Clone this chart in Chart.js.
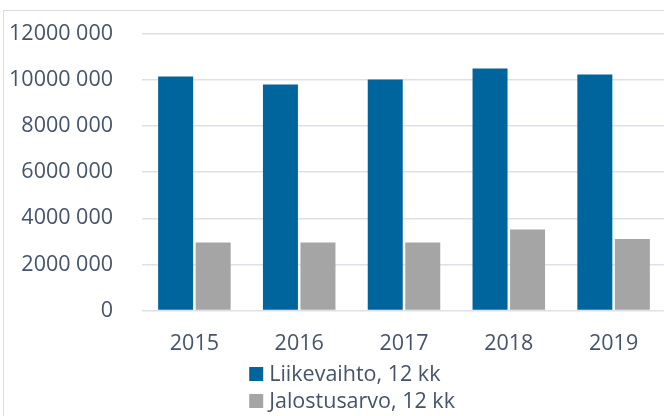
<!DOCTYPE html>
<html>
<head>
<meta charset="utf-8">
<script src="https://cdn.jsdelivr.net/npm/chart.js@4"></script>
<style>
    html, body { margin: 0; padding: 0; overflow: hidden; background: #fff; }
    #frame {
        position: absolute; left: 3px; top: 10px; width: 700px; height: 500px;
        border-left: 1.5px solid #d9dce1; border-top: 1.5px solid #d9dce1;
    }
    #wrap { position: absolute; left: 0; top: -8px; width: 666px; height: 424px; }
</style>
</head>
<body>
<div id="frame"></div>
<div id="wrap"><canvas id="chart"></canvas></div>
<script>
// Data
const years = ['2015', '2016', '2017', '2018', '2019'];
const liikevaihto = [10150000, 9800000, 10020000, 10500000, 10240000];
const jalostusarvo = [2950000, 2950000, 2950000, 3510000, 3100000];
const seriesNames = ['Liikevaihto, 12 kk', 'Jalostusarvo, 12 kk'];
const yTicks = [0, 2000000, 4000000, 6000000, 8000000, 10000000, 12000000];

const textColor = '#44546a';
const fontFamily = '"Open Sans", sans-serif';

// Finnish Excel style: only the last thousand group is separated
function fmt(n) {
    if (n < 1000) return String(n);
    return Math.floor(n / 1000) + ' ' + String(n % 1000).padStart(3, '0');
}

// Legend drawn as two left-aligned rows under the axis
const stackedLegend = {
    id: 'stackedLegend',
    afterDraw(chart) {
        const ctx = chart.ctx;
        const x0 = chart.scales.x.getPixelForValue(1) - 50;
        const y0 = chart.chartArea.bottom + 63.5;
        ctx.save();
        ctx.font = '21.5px ' + fontFamily;
        ctx.textBaseline = 'middle';
        chart.data.datasets.forEach((ds, i) => {
            const y = y0 + i * 27;
            ctx.fillStyle = ds.backgroundColor;
            ctx.fillRect(x0, y - 7, 14, 14);
            ctx.fillStyle = textColor;
            ctx.fillText(ds.label, x0 + 20, y + 1);
        });
        ctx.restore();
    }
};

const ctx = document.getElementById('chart').getContext('2d');
new Chart(ctx, {
    type: 'bar',
    data: {
        labels: years,
        datasets: [
            { label: seriesNames[0], data: liikevaihto, backgroundColor: '#00659d' },
            { label: seriesNames[1], data: jalostusarvo, backgroundColor: '#a5a5a5' }
        ]
    },
    options: {
        responsive: true,
        maintainAspectRatio: false,
        animation: false,
        categoryPercentage: 0.716,
        barPercentage: 0.933,
        layout: { padding: { top: 27, left: 0, right: 0, bottom: 0 } },
        plugins: {
            legend: { display: false },
            tooltip: { enabled: false }
        },
        scales: {
            x: {
                grid: { display: false },
                border: { display: false },
                ticks: { color: textColor, font: { family: fontFamily, size: 21.5 }, padding: 12 },
                afterFit: (s) => { s.height = 105.5; }
            },
            y: {
                min: 0,
                max: 12000000,
                afterBuildTicks: (s) => { s.ticks = yTicks.map(v => ({ value: v })); },
                grid: { color: '#dde1e7', lineWidth: 1.5, drawTicks: false },
                border: { display: false },
                ticks: {
                    color: textColor,
                    font: { family: fontFamily, size: 21.5 },
                    padding: 29,
                    callback: (v) => fmt(v)
                },
                afterFit: (s) => { s.width = 142; }
            }
        }
    },
    plugins: [stackedLegend]
});
</script>
</body>
</html>
